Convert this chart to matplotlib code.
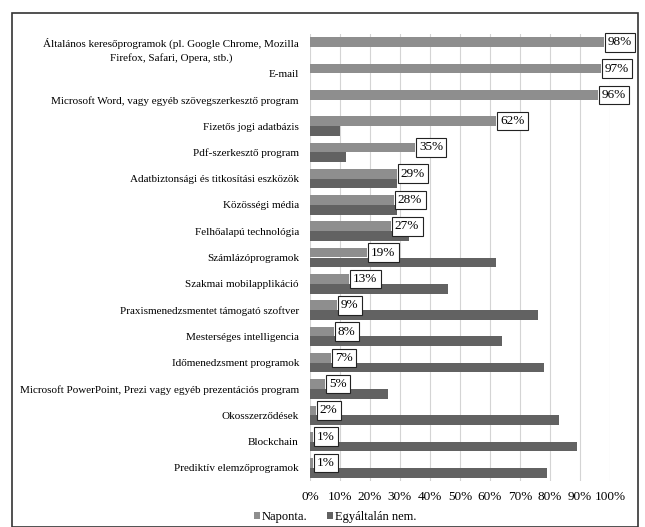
import matplotlib
matplotlib.use("Agg")
import matplotlib.pyplot as plt
from matplotlib.patches import Rectangle

# categories top to bottom
categories = [
    "Általános keresőprogramok (pl. Google Chrome, Mozilla\nFirefox, Safari, Opera, stb.)",
    "E-mail",
    "Microsoft Word, vagy egyéb szövegszerkesztő program",
    "Fizetős jogi adatbázis",
    "Pdf-szerkesztő program",
    "Adatbiztonsági és titkosítási eszközök",
    "Közösségi média",
    "Felhőalapú technológia",
    "Számlázóprogramok",
    "Szakmai mobilapplikáció",
    "Praxismenedzsmentet támogató szoftver",
    "Mesterséges intelligencia",
    "Időmenedzsment programok",
    "Microsoft PowerPoint, Prezi vagy egyéb prezentációs program",
    "Okosszerződések",
    "Blockchain",
    "Prediktív elemzőprogramok",
]
naponta = [98, 97, 96, 62, 35, 29, 28, 27, 19, 13, 9, 8, 7, 5, 2, 1, 1]
egyaltalan_nem = [0, 0, 0, 10, 12, 29, 29, 33, 62, 46, 76, 64, 78, 26, 83, 89, 79]
xticks = [0, 10, 20, 30, 40, 50, 60, 70, 80, 90, 100]

plt.rcParams['font.family'] = ['Liberation Serif', 'DejaVu Serif']

fig = plt.figure(figsize=(6.45, 5.27), dpi=100)
ax = fig.add_axes([310 / 645, 1 - 481 / 527, 300 / 645, 447 / 527])

ypos = list(range(len(categories)))
h = 0.37
up = [y - h / 2 for y in ypos]
down = [y + h / 2 for y in ypos]

ax.barh(up, naponta, height=h, color='#8e8e8e', label='Naponta.', zorder=3)
ax.barh(down, egyaltalan_nem, height=h, color='#626262', label='Egyáltalán nem.', zorder=3)

# boxed value labels next to the daily bars
for y, v in zip(up, naponta):
    ax.text(v + 1.3, y, f"{v}%", va='center', ha='left', fontsize=9.5,
            bbox=dict(boxstyle='square,pad=0.25', fc='white', ec='#222222', lw=0.8),
            zorder=5, clip_on=False)

ax.set_xlim(0, 100)
ax.set_ylim(len(categories) - 0.5, -0.5)
ax.set_xticks(xticks)
ax.set_xticklabels([f"{t}%" for t in xticks], fontsize=9.5)
ax.set_yticks(ypos)
ax.set_yticklabels(categories, fontsize=8.0)
for lab in ax.get_yticklabels():
    lab.set_multialignment('center')
    lab.set_linespacing(1.5)
ax.tick_params(axis='y', length=0, pad=8)
ax.tick_params(axis='x', length=0, pad=7)
ax.grid(axis='x', color='#d4d4d4', linewidth=0.8, zorder=0)
for s in ax.spines.values():
    s.set_visible(False)

fig.legend(loc='center', bbox_to_anchor=(335 / 645, 1 - 517 / 527), ncol=2,
           frameon=False, fontsize=9, handlelength=0.5, handleheight=0.5,
           handletextpad=0.15, columnspacing=1.5)

# outer frame of the scanned figure
fig.patches.append(Rectangle((12 / 645, 0.0), 626 / 645, 1 - 13 / 527,
                             transform=fig.transFigure, fill=False,
                             ec='#333333', lw=1.2))

fig.savefig("out.png", dpi=100)
